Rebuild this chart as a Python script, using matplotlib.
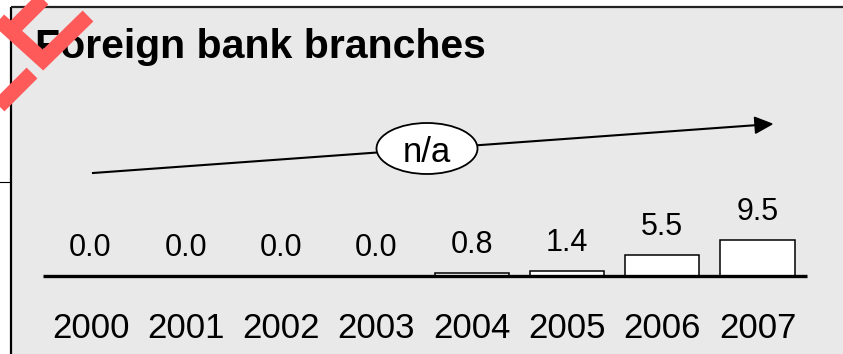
import matplotlib.pyplot as plt
import numpy as np
from matplotlib.patches import Rectangle, Ellipse, Polygon

plt.rcParams['font.family'] = ['Liberation Sans', 'DejaVu Sans']

# Data
years = ['2000', '2001', '2002', '2003', '2004', '2005', '2006', '2007']
values = [0.0, 0.0, 0.0, 0.0, 0.8, 1.4, 5.5, 9.5]

W, H = 843, 354
fig = plt.figure(figsize=(W / 100, H / 100), dpi=100)

# background panel (pixel coordinates, y down)
bg = fig.add_axes([0, 0, 1, 1], zorder=0)
bg.set_xlim(0, W)
bg.set_ylim(H, 0)
bg.axis('off')
bg.add_patch(Rectangle((11, 7), W - 11, H - 7, facecolor='#e9e9e9', edgecolor='none'))
bg.plot([11, 11], [7, H], color='black', lw=1.6, solid_capstyle='butt')
bg.plot([11, W], [7, 7], color='#222222', lw=1.6, solid_capstyle='butt')
bg.plot([0, 11], [182, 182], color='black', lw=0.8)

# bars
ax = fig.add_axes([0, 0, 1, 1], zorder=1)
ax.patch.set_visible(False)
ax.axis('off')
step, x0, base, scale = 95.3, 90.5, 276, 3.75
ax.set_xlim(-x0 / step, (W - x0) / step)
ax.set_ylim(-(H - base) / scale, base / scale)
x = np.arange(len(years))
ax.bar(x, values, width=0.78, color='white', edgecolor='black', linewidth=1.1)
ax.plot([-0.5, 7.52], [0, 0], color='black', lw=2.4, solid_capstyle='butt')
for xi, v, yr in zip(x, values, years):
    ax.annotate(f'{v:.1f}', (xi, v), xytext=(0, 20), textcoords='offset pixels',
                ha='center', va='baseline', fontsize=22)
    ax.annotate(yr, (xi, 0), xytext=(0, -62), textcoords='offset pixels',
                ha='center', va='baseline', fontsize=25)

# overlay: arrow, n/a bubble, title, red cross
px = fig.add_axes([0, 0, 1, 1], zorder=2)
px.patch.set_visible(False)
px.axis('off')
px.set_xlim(0, W)
px.set_ylim(H, 0)

start = np.array([93.0, 173.0])
tip = np.array([772.0, 124.0])
u = (tip - start) / np.linalg.norm(tip - start)
n = np.array([-u[1], u[0]])
head = tip - 17 * u
px.plot([start[0], head[0]], [start[1], head[1]], color='black', lw=1.5)
px.add_patch(Polygon([tip, head + 8 * n, head - 8 * n], closed=True, color='black'))
px.add_patch(Ellipse((427, 148.5), 101, 51, facecolor='white', edgecolor='black', lw=1.3, zorder=3))
px.text(427, 162, 'n/a', ha='center', va='baseline', fontsize=25, zorder=4)

px.text(35, 58, 'Foreign bank branches', fontweight='bold', fontsize=29.5,
        ha='left', va='baseline', zorder=4)

red = '#ff5a5a'
px.plot([-10, 43, 88], [12, 60, 16], color=red, lw=11, solid_joinstyle='miter',
        solid_capstyle='butt', zorder=5)
px.plot([52, 12], [-10, 30], color=red, lw=11, solid_capstyle='butt', zorder=5)
px.plot([32, -10], [73, 115], color=red, lw=11, solid_capstyle='butt', zorder=5)

fig.savefig('out.png', dpi=100, facecolor='white')
